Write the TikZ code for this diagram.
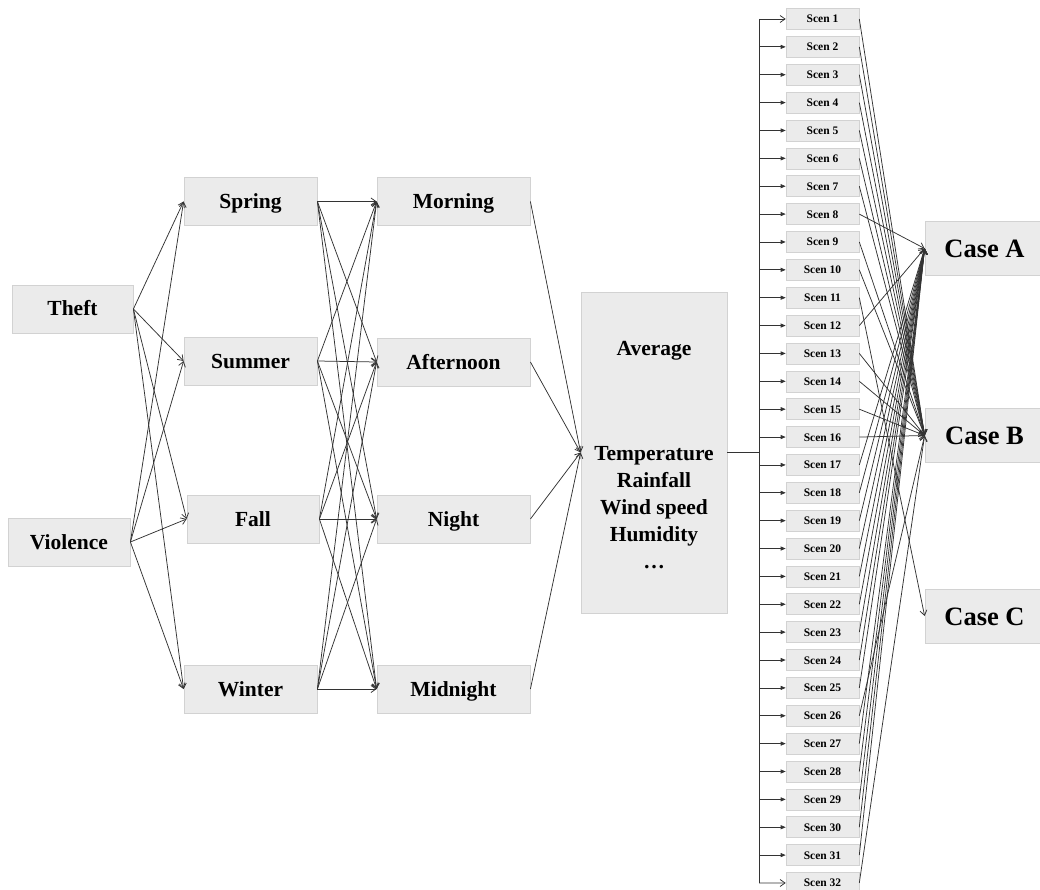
\documentclass[tikz,border=0pt]{standalone}
\usepackage{fontspec}
\setmainfont{Liberation Serif}
\usetikzlibrary{arrows.meta}
\definecolor{boxfill}{HTML}{EBEBEB}
\definecolor{boxline}{HTML}{D2D2D2}
\definecolor{ln}{HTML}{333333}
\begin{document}
\begin{tikzpicture}[x=1pt,y=-1pt,
  bx/.style={draw=boxline, fill=boxfill, line width=0.8pt, inner sep=0pt,
    minimum height=48pt, text=black, font=\bfseries\fontsize{21.5}{27}\selectfont},
  one/.style={text height=16pt, text depth=2pt},
  sc/.style={draw=boxline, fill=boxfill, line width=0.6pt, inner sep=0pt,
    minimum width=73pt, minimum height=21pt, text=black,
    text height=9pt, text depth=1pt,
    font=\bfseries\fontsize{11.5}{13}\selectfont},
  cs/.style={draw=boxline, fill=boxfill, line width=0.8pt, inner sep=0pt,
    minimum width=119pt, minimum height=54pt, text=black,
    text height=20pt, text depth=2pt,
    font=\bfseries\fontsize{26.5}{30}\selectfont},
  wire/.style={draw=ln, line width=0.75pt},
  con/.style={wire, -{Straight Barb[length=5pt,width=7pt,line width=0.75pt]}},
  tri/.style={wire, -{Triangle[length=5pt,width=4pt]}}]
\fill[white] (0,0) rectangle (1040,890);
\useasboundingbox (0,0) rectangle (1040,890);

% crimes
\node[bx, one, minimum width=121pt] (theft) at (72.5,309) {Theft};
\node[bx, one, minimum width=122pt] (viol) at (69,542) {Violence};
% seasons
\node[bx, one, minimum width=133pt] (spring) at (250.5,201.5) {Spring};
\node[bx, one, minimum width=133pt] (summer) at (250.5,361) {Summer};
\node[bx, one, minimum width=132pt] (fall) at (253,519) {Fall};
\node[bx, one, minimum width=133pt] (winter) at (250.5,689) {Winter};
% times
\node[bx, one, minimum width=153pt] (morning) at (453.5,201.5) {Morning};
\node[bx, one, minimum width=153pt] (afternoon) at (453.5,362) {Afternoon};
\node[bx, one, minimum width=153pt] (night) at (453.5,519) {Night};
\node[bx, one, minimum width=153pt] (midnight) at (453.5,689) {Midnight};
% average
\node[bx, minimum width=146pt, minimum height=321pt, align=center] (avg) at (654,452.5)
  {\rule{0pt}{19pt}Average\\[78pt]Temperature\\Rainfall\\Wind speed\\Humidity\\…};
% scenarios
\foreach \k in {1,...,32} {
  \node[sc] (s\k) at (822.5,{19+(\k-1)*27.87}) {Scen \k};
}
% cases
\node[cs] (caseA) at (984.5,248.5) {Case A};
\node[cs] (caseB) at (984.5,435.5) {Case B};
\node[cs] (caseC) at (984.5,616) {Case C};

% crime -> season
\foreach \a in {theft,viol} {
  \foreach \b in {spring,summer,fall,winter} {
    \draw[con] (\a.east) -- (\b.west);
  }
}
% season -> time
\foreach \a in {spring,summer,fall,winter} {
  \foreach \b in {morning,afternoon,night,midnight} {
    \draw[con] (\a.east) -- (\b.west);
  }
}
% time -> average
\foreach \a in {morning,afternoon,night,midnight} {
  \draw[con] (\a.east) -- (avg.west);
}
% average -> scenarios
\coordinate (vt) at (759,19);
\coordinate (vb) at (759,883);
\draw[wire] (vt) -- (vb);
\draw[wire] (avg.east) -- (avg.east -| vt);
\draw[con] (vt) -- (s1.west);
\draw[con] (vb) -- (s32.west);
\foreach \k in {2,...,31} {
  \draw[tri] (vt |- s\k.west) -- (s\k.west);
}
% scenarios -> cases
\foreach \k/\c in {1/B,2/B,3/B,4/B,5/B,6/B,7/B,8/A,9/B,10/B,11/C,12/A,13/B,14/B,15/B,16/B,
  17/A,18/A,19/A,20/A,21/A,22/A,23/A,24/A,25/A,26/B,27/A,28/A,29/A,30/A,31/A,32/B} {
  \draw[con] (s\k.east) -- (case\c.west);
}
\end{tikzpicture}
\end{document}
